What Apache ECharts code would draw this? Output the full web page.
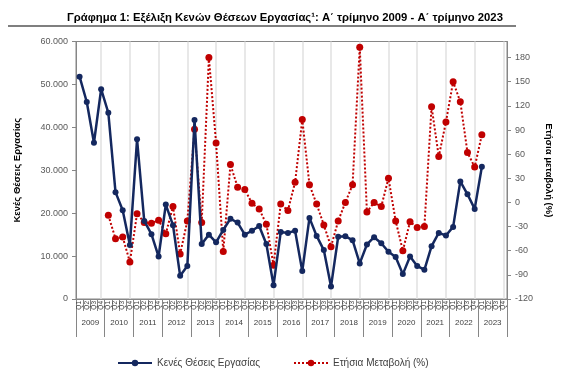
<!DOCTYPE html>
<html><head><meta charset="utf-8">
<script src="https://cdn.jsdelivr.net/npm/echarts@6/dist/echarts.min.js"></script>
<style>html,body{margin:0;padding:0;background:#fff}#c{width:571px;height:381px}</style>
</head><body><div id="c"></div>
<script>
const years = ['2009','2010','2011','2012','2013','2014','2015','2016','2017','2018','2019','2020','2021','2022','2023'];
const quarters = ['Q1','Q2','Q3','Q4'];
const vacancies = [51800,45900,36400,48900, 43400,24900,20700,12600, 37200,18200,15100,9900,
  22000,17200,5400,7700, 41700,12800,15000,13200, 16100,18700,17800,15000,
  15900,17000,12800,3200, 15600,15400,15900,6500, 18900,14700,11400,2900,
  14500,14600,13700,8300, 12700,14400,13000,11000, 9800,5800,9900,7700,
  6800,12300,15400,14800, 16800,27400,24400,21000, 30800];
const changes = [null,null,null,null, -16,-45,-43,-74, -14,-25,-26,-22,
  -39,-5,-64,-23, 91,-25,180,74, -61,47,19,16,
  -1,-8,-27,-78, -2,-10,25,103, 22,-2,-28,-55,
  -23,0,22,193, -12,0,-5,30, -23,-60,-24,-31,
  -30,119,57,100, 150,125,62,44, 84];
const leftTicks = {min:0, max:60000, interval:10000};
const rightTicks = {min:-120, max:200, interval:30};
const seriesNames = ['Κενές Θέσεις Εργασίας','Ετήσια Μεταβολή (%)'];

const cats = [];
years.forEach(y => quarters.forEach(q => cats.push(q)));
const fmt = v => { const s = String(Math.abs(v)).replace(/\B(?=(\d{3})+(?!\d))/g, '.'); return (v<0?'-':'') + s; };
const FONT = '"Liberation Sans", Arial, sans-serif';
const chart = echarts.init(document.getElementById('c'), null, {renderer:'canvas'});
chart.setOption({
  animation:false,
  textStyle:{fontFamily:FONT},
  title:{text:'Γράφημα 1: Εξέλιξη Κενών Θέσεων Εργασίας¹: Α΄ τρίμηνο 2009 - Α΄ τρίμηνο 2023',
    left:280, top:7, textAlign:'center',
    textStyle:{fontSize:11.3, fontWeight:'bold', color:'#000', fontFamily:FONT}},
  graphic:[{type:'line', shape:{x1:8,y1:26,x2:516,y2:26}, style:{stroke:'#7f7f7f', lineWidth:2}}],
  grid:{left:76, right:64, top:41.5, bottom:82, show:true, borderColor:'#868686', borderWidth:1},
  legend:{bottom:8, left:112, itemGap:33, itemWidth:34, itemHeight:8,
    textStyle:{fontSize:10, color:'#404040', fontFamily:FONT},
    data:seriesNames},
  xAxis:[{type:'category', data:cats, boundaryGap:true, position:'bottom',
      axisLine:{onZero:false, lineStyle:{color:'#868686'}},
      axisTick:{show:true, length:12, interval:0, lineStyle:{color:'#868686'}},
      axisLabel:{interval:0, rotate:90, fontSize:6.5, color:'#404040', margin:2},
      splitLine:{show:false}},
    {type:'category', data:years, boundaryGap:true, position:'bottom', offset:0,
      axisLine:{show:false, onZero:false},
      axisTick:{show:true, length:38, interval:0, lineStyle:{color:'#868686'}},
      axisLabel:{interval:0, fontSize:8, color:'#404040', margin:20},
      splitLine:{show:false}}],
  yAxis:[{type:'value', min:leftTicks.min, max:leftTicks.max, interval:leftTicks.interval, position:'left',
      name:'Κενές Θέσεις Εργασίας', nameLocation:'middle', nameGap:54,
      nameTextStyle:{fontSize:9.5, fontWeight:'bold', color:'#000'},
      axisLine:{show:true, onZero:false, lineStyle:{color:'#868686'}},
      axisTick:{show:true, length:4, lineStyle:{color:'#868686'}},
      axisLabel:{formatter:fmt, fontSize:9, color:'#595959', margin:8},
      splitLine:{show:false}},
    {type:'value', min:rightTicks.min, max:rightTicks.max, interval:rightTicks.interval, position:'right',
      name:'Ετήσια μεταβολή (%)', nameLocation:'middle', nameGap:26, nameRotate:-90,
      nameTextStyle:{fontSize:9.5, fontWeight:'bold', color:'#000'},
      axisLine:{show:true, onZero:false, lineStyle:{color:'#868686'}},
      axisTick:{show:true, length:4, lineStyle:{color:'#868686'}},
      axisLabel:{showMaxLabel:false, fontSize:9, color:'#595959', margin:8},
      splitLine:{show:false}}],
  series:[
    {name:'grid-lines', type:'line', xAxisIndex:0, yAxisIndex:0, data:[], z:1, silent:true,
      markLine:{silent:true, z:1, symbol:['none','none'], label:{show:false},
        lineStyle:{color:'#e0e0e0', width:1.5, type:'solid'},
        data: years.map((y,k) => ({xAxis: k*4+3}))}},
    {name:seriesNames[0], type:'line', xAxisIndex:0, yAxisIndex:0, data:vacancies,
      symbol:'circle', symbolSize:6, z:3,
      lineStyle:{color:'#14285f', width:2.5}, itemStyle:{color:'#14285f'}},
    {name:seriesNames[1], type:'line', xAxisIndex:0, yAxisIndex:1, data:changes,
      symbol:'circle', symbolSize:7, z:2,
      lineStyle:{color:'#c00000', width:2, type:[2,2]}, itemStyle:{color:'#c00000'}}
  ]
});
</script></body></html>
